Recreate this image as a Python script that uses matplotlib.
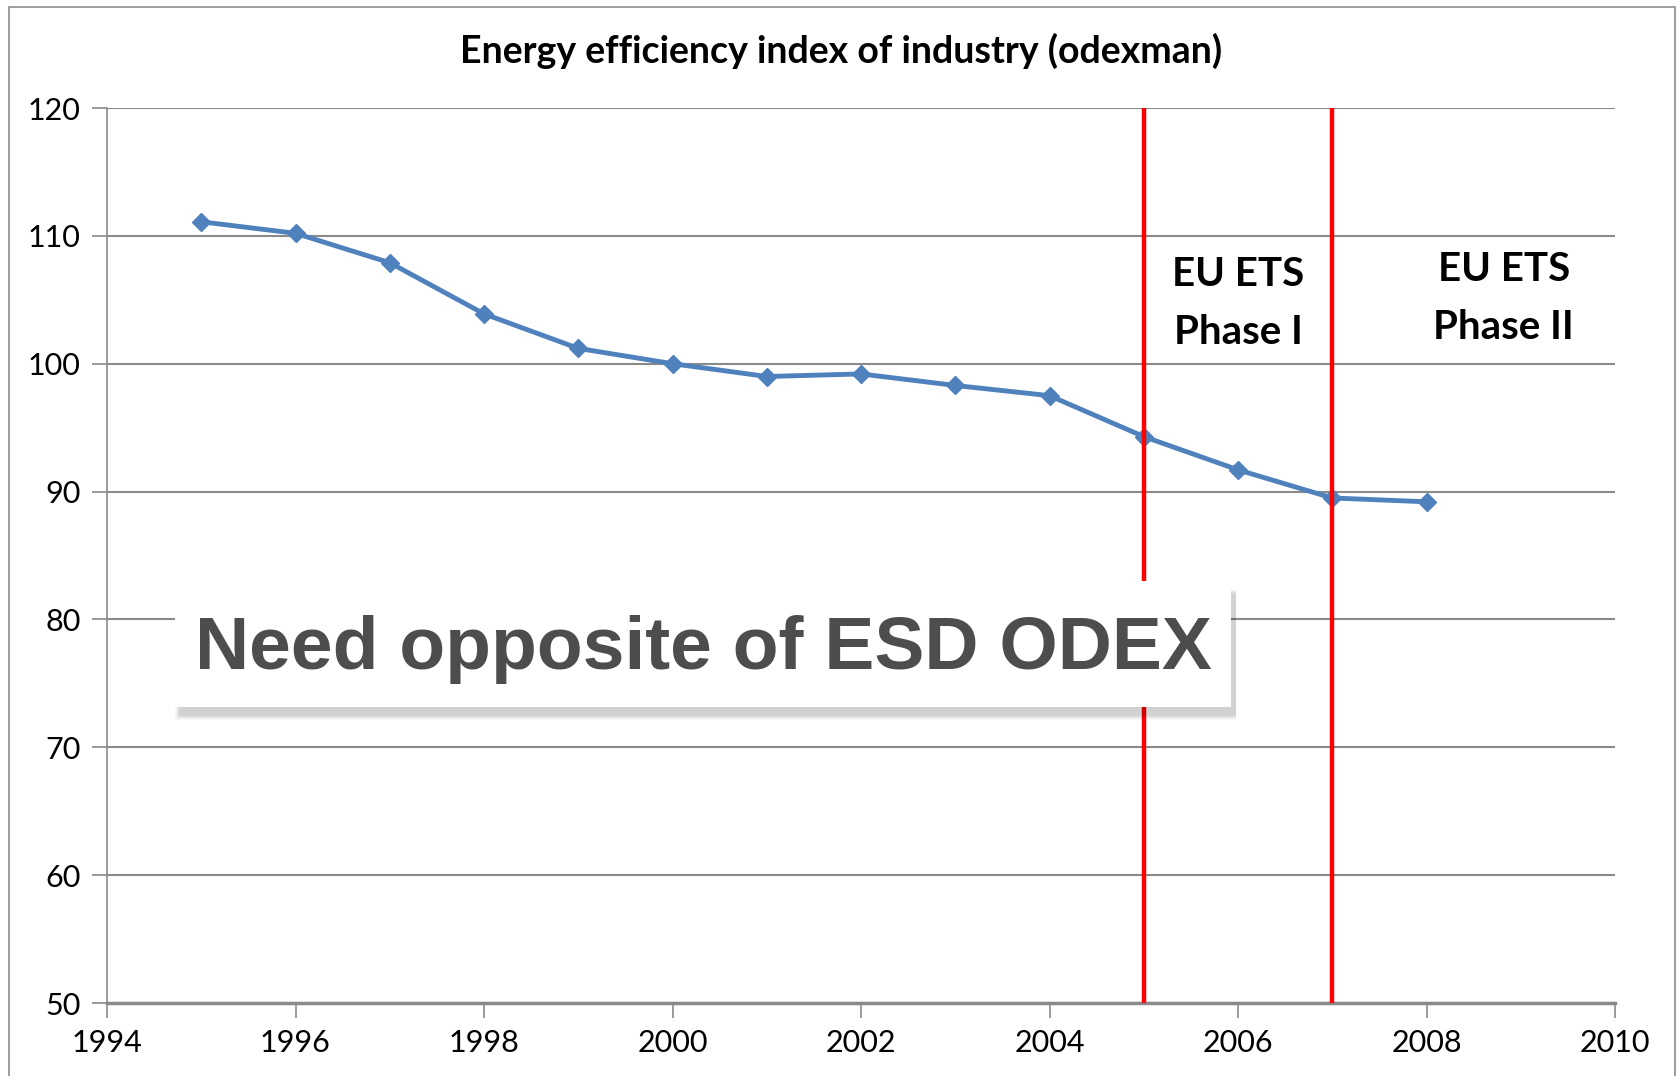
import matplotlib
matplotlib.use("Agg")
import matplotlib.pyplot as plt
from matplotlib.patches import Rectangle

# data
years = [1995, 1996, 1997, 1998, 1999, 2000, 2001, 2002, 2003, 2004, 2005, 2006, 2007, 2008]
odexman = [111.1, 110.2, 107.9, 103.9, 101.2, 100.0, 99.0, 99.2, 98.3, 97.5, 94.3, 91.7, 89.5, 89.2]
phase_starts = [2005, 2007]
phase_labels = ["EU ETS\nPhase I", "EU ETS\nPhase II"]
phase_label_x = [2006, 2008.82]
phase_label_y = [104.7, 105.1]
x_ticks = list(range(1994, 2011, 2))
y_ticks = list(range(50, 121, 10))

fig = plt.figure(figsize=(16.79, 10.76), dpi=100)
ax = fig.add_axes([107/1679, 1-1003/1076, 1508/1679, 895/1076])

# outer chart frame
fig.patches.append(Rectangle((9/1679, -0.02), 1666/1679, 1.02-7/1076, transform=fig.transFigure,
                             fill=False, edgecolor="#8c8c8c", linewidth=1.2))

ax.set_xlim(1994, 2010)
ax.set_ylim(50, 120)
ax.set_xticks(x_ticks)
ax.set_yticks(y_ticks)
ax.grid(axis="y", color="#8a8a8a", linewidth=1.5)
ax.set_axisbelow(True)
for s in ["top", "right"]:
    ax.spines[s].set_visible(False)
ax.spines["left"].set_color("#8a8a8a")
ax.spines["left"].set_linewidth(1.2)
ax.spines["bottom"].set_color("#8a8a8a")
ax.spines["bottom"].set_linewidth(2.5)
ax.tick_params(axis="both", color="#8a8a8a", length=11, width=1.2, labelsize=22, pad=8)
for lab in ax.get_xticklabels() + ax.get_yticklabels():
    lab.set_family("Lato")

ax.plot(years, odexman, color="#4F81BD", linewidth=3.5, marker="D", markersize=9.5, zorder=3)

for x in phase_starts:
    ax.axvline(x, color="#ff0000", linewidth=3.2, zorder=4)

for lx, ly, txt in zip(phase_label_x, phase_label_y, phase_labels):
    ax.text(lx, ly, txt, ha="center", va="center", fontsize=29, fontweight="bold",
            family="Lato", linespacing=1.7)

fig.text(841/1679, 1-51/1076, "Energy efficiency index of industry (odexman)", ha="center", va="center",
         fontsize=27, fontweight="bold", family="Lato")

# callout box with soft shadow
bx, by, bw, bh = 175/1679, 1-707/1076, 1056/1679, 126/1076
for i, a in enumerate([0.025, 0.03, 0.035, 0.04, 0.05]):
    g = (5 - i)
    fig.patches.append(Rectangle((bx + (5 - g)/1679, by - (8 + g)/1076), bw + g/1679, bh,
                                 transform=fig.transFigure, facecolor="black", alpha=a,
                                 edgecolor="none", zorder=5))
fig.patches.append(Rectangle((bx, by), bw, bh, transform=fig.transFigure, facecolor="white",
                             edgecolor="none", zorder=6))
fig.text(bx + bw/2, 1-669/1076, "Need opposite of ESD ODEX", ha="center", va="baseline",
         fontsize=54, fontweight="bold", family="Liberation Sans", color="#4d4d4d", zorder=7)

fig.savefig("out.png", dpi=100)
